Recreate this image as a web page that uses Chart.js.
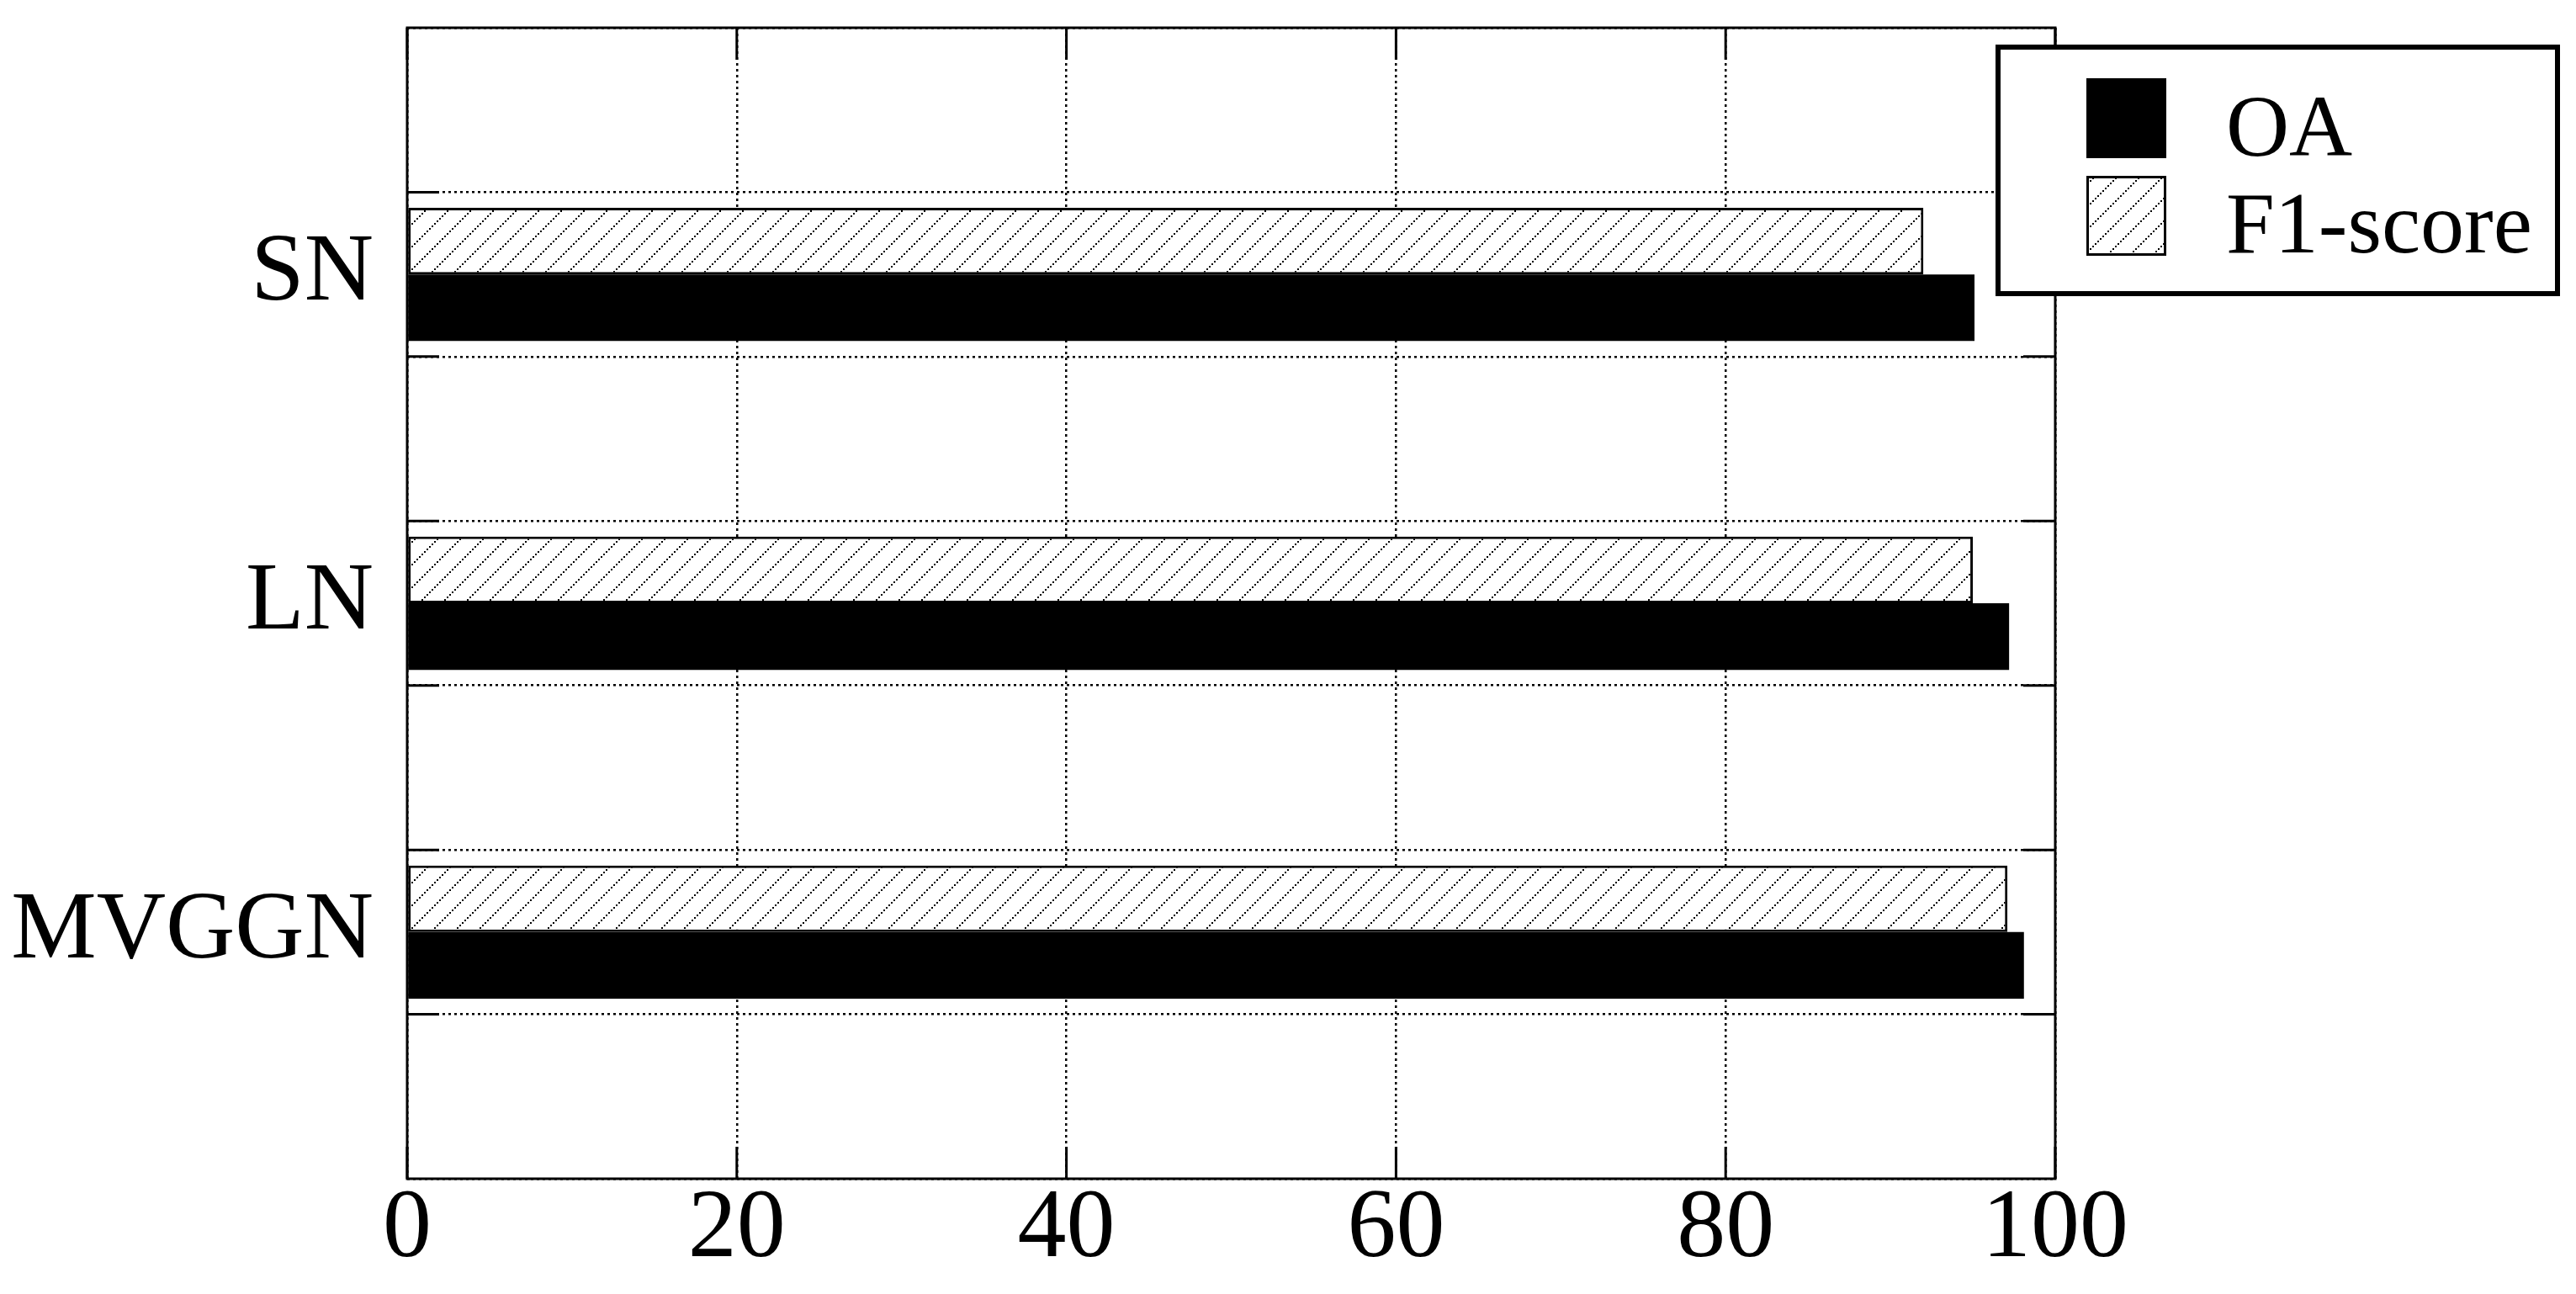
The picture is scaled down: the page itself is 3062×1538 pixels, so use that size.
<!DOCTYPE html>
<html>
<head>
<meta charset="utf-8">
<script src="https://cdn.jsdelivr.net/npm/chart.js@4"></script>
<style>
html, body { margin: 0; padding: 0; background: #ffffff; }
canvas { display: block; }
</style>
</head>
<body>
<canvas id="chart" width="3062" height="1538"></canvas>
<script>
// ---- data ----
const categories = ['SN', 'LN', 'MVGGN'];
const oaValues = [95.1, 97.2, 98.1];
const f1Values = [92.0, 95.0, 97.1];
const xTickValues = [0, 20, 40, 60, 80, 100];
const seriesNames = ['OA', 'F1-score'];

// empty slot between / around categories (as in the reference layout)
const labels = [''];
const oaData = [null];
const f1Data = [null];
categories.forEach((c, i) => {
  labels.push(c, '');
  oaData.push(oaValues[i], null);
  f1Data.push(f1Values[i], null);
});

// ---- hatch pattern ----
function makeHatch() {
  const s = 27;
  const t = document.createElement('canvas');
  t.width = s; t.height = s;
  const g = t.getContext('2d');
  g.fillStyle = '#ffffff';
  g.fillRect(0, 0, s, s);
  g.fillStyle = '#000000';
  for (let i = 0; i < s; i += 3) {
    g.fillRect(i, s - i - 2, 2, 2);
  }
  return document.getElementById('chart').getContext('2d').createPattern(t, 'repeat');
}
const hatch = makeHatch();

Chart.defaults.font.family = "'Liberation Serif', 'Times New Roman', serif";
Chart.defaults.color = '#000000';

const frameAndTicks = {
  id: 'frameAndTicks',
  afterDatasetsDraw(chart) {
    const ctx = chart.ctx;
    const a = chart.chartArea;
    const x = chart.scales.x, y = chart.scales.y;
    const len = 38;
    ctx.save();
    ctx.strokeStyle = '#000000';
    ctx.lineWidth = 3;
    ctx.beginPath();
    x.ticks.forEach(t => {
      const px = x.getPixelForValue(t.value);
      ctx.moveTo(px, a.top); ctx.lineTo(px, a.top + len);
      ctx.moveTo(px, a.bottom - len); ctx.lineTo(px, a.bottom);
    });
    for (let i = 1; i < y.ticks.length; i++) {
      const py = (y.getPixelForTick(i - 1) + y.getPixelForTick(i)) / 2;
      ctx.moveTo(a.left, py); ctx.lineTo(a.left + len, py);
      ctx.moveTo(a.right - len, py); ctx.lineTo(a.right, py);
    }
    ctx.stroke();
    ctx.strokeRect(a.left, a.top, a.right - a.left, a.bottom - a.top);
    ctx.restore();
  }
};

const boxLegend = {
  id: 'boxLegend',
  afterDraw(chart, args, o) {
    const ctx = chart.ctx;
    ctx.save();
    ctx.fillStyle = '#ffffff';
    ctx.fillRect(o.left, o.top, o.right - o.left, o.bottom - o.top);
    ctx.lineWidth = o.border;
    ctx.strokeStyle = '#000000';
    ctx.strokeRect(o.left + o.border / 2, o.top + o.border / 2,
      o.right - o.left - o.border, o.bottom - o.top - o.border);
    // legend lists OA first, then F1-score (reverse of dataset order)
    const ds = chart.data.datasets.slice().reverse();
    ds.forEach((d, i) => {
      const top = o.rowTops[i];
      ctx.fillStyle = d.backgroundColor;
      ctx.fillRect(o.swatchX, top, o.swatchW, o.swatchH);
      if (d.borderWidth) {
        ctx.lineWidth = d.borderWidth;
        ctx.strokeStyle = d.borderColor;
        ctx.strokeRect(o.swatchX + d.borderWidth / 2, top + d.borderWidth / 2,
          o.swatchW - d.borderWidth, o.swatchH - d.borderWidth);
      }
      ctx.fillStyle = '#000000';
      ctx.font = o.fontSize + "px 'Liberation Serif', serif";
      ctx.textAlign = 'left';
      ctx.textBaseline = 'alphabetic';
      ctx.fillText(d.label, o.textX, o.baselines[i]);
    });
    ctx.restore();
  }
};

new Chart(document.getElementById('chart'), {
  type: 'bar',
  data: {
    labels: labels,
    datasets: [
      {
        label: seriesNames[1],
        data: f1Data,
        backgroundColor: hatch,
        borderColor: '#000000',
        borderWidth: 3,
        borderSkipped: false
      },
      {
        label: seriesNames[0],
        data: oaData,
        backgroundColor: '#000000',
        borderColor: '#000000',
        borderWidth: 0
      }
    ]
  },
  options: {
    indexAxis: 'y',
    responsive: false,
    animation: false,
    devicePixelRatio: 1,
    layout: { padding: { top: 33, right: 619, left: 0, bottom: 0 } },
    datasets: { bar: { categoryPercentage: 0.81, barPercentage: 1.0 } },
    plugins: {
      legend: { display: false },
      tooltip: { enabled: false },
      boxLegend: {
        left: 2372, top: 53, right: 3043, bottom: 352, border: 6,
        swatchX: 2480, swatchW: 95, swatchH: 95,
        rowTops: [93, 209], baselines: [185, 300],
        textX: 2646, fontSize: 104
      }
    },
    scales: {
      x: {
        type: 'linear',
        min: xTickValues[0],
        max: xTickValues[xTickValues.length - 1],
        afterBuildTicks(scale) { scale.ticks = xTickValues.map(v => ({ value: v })); },
        ticks: { color: '#000000', font: { size: 116 }, padding: -8, maxRotation: 0 },
        grid: { color: '#000000', lineWidth: 2.5, drawTicks: false },
        border: { display: false, dash: [3, 4] },
        afterFit(scale) { scale.height = 137; scale.paddingLeft = 0; scale.paddingRight = 0; }
      },
      y: {
        type: 'category',
        offset: true,
        ticks: { color: '#000000', font: { size: 114 }, padding: 40, autoSkip: false },
        grid: { color: '#000000', lineWidth: 2.5, drawTicks: false, offset: true },
        border: { display: false, dash: [3, 4] },
        afterFit(scale) { scale.width = 484; scale.paddingTop = 0; scale.paddingBottom = 0; }
      }
    }
  },
  plugins: [frameAndTicks, boxLegend]
});
</script>
</body>
</html>
